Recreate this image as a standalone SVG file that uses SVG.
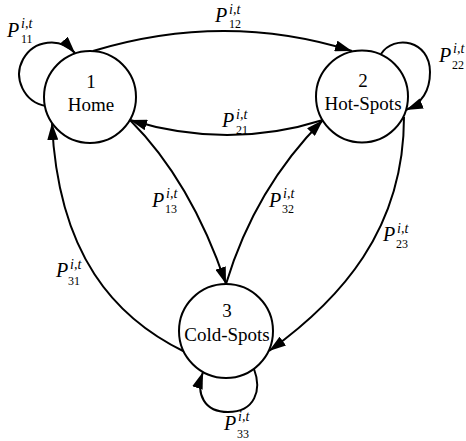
<svg xmlns="http://www.w3.org/2000/svg" width="466" height="441" viewBox="0 0 466 441">
<style>
.node{fill:#fff;stroke:#000;stroke-width:2}
.lbl{font-family:"Liberation Serif","Times New Roman",serif;font-size:19px;fill:#000;text-anchor:middle}
.edge{fill:none;stroke:#000;stroke-width:2;marker-end:url(#ah)}
.P{font-family:"Liberation Serif","Times New Roman",serif;font-style:italic;font-size:20px;fill:#000}
.sup{font-family:"Liberation Serif","Times New Roman",serif;font-style:italic;font-size:14px;fill:#000}
.sub{font-family:"Liberation Serif","Times New Roman",serif;font-size:12px;fill:#000}
</style>
<defs>
<marker id="ah" markerUnits="userSpaceOnUse" markerWidth="18" markerHeight="11" refX="17" refY="5.5" orient="auto">
<path d="M0,0 L17,5.5 L0,11 z" fill="#000"/>
</marker>
</defs>
<rect width="466" height="441" fill="#fff"/>
<g id="connectors">
<path class="edge" d="M93,51 Q225,11 352,51"/>
<path class="edge" d="M323,120 Q228,150 130,120"/>
<path class="edge" d="M130,120 Q191,181 226,284"/>
<path class="edge" d="M226,284 Q255,188 323,120"/>
<path class="edge" d="M404,117 C404,230 340,300 269,351"/>
<path class="edge" d="M185,352 C115,318 58,255 52,123"/>
<path class="edge" d="M46,106 A32,32 0 1 1 75,53"/>
<path class="edge" d="M381,54 C394,34 430,40 430,72 C430,95 418,105 406,110"/>
<path class="edge" d="M254,369 C262,390 255,412 228,412 C205,412 195,395 203,372"/>
</g>
<g id="edge-labels">
<g id="p11"><text class="P" x="7" y="37">P</text><text class="sup" x="21" y="28">i,t</text><text class="sub" x="21" y="43">11</text></g>
<g id="p12"><text class="P" x="215" y="22">P</text><text class="sup" x="229" y="14">i,t</text><text class="sub" x="229" y="28">12</text></g>
<g id="p21"><text class="P" x="222" y="127">P</text><text class="sup" x="236" y="119">i,t</text><text class="sub" x="236" y="134">21</text></g>
<g id="p22"><text class="P" x="439" y="62">P</text><text class="sup" x="453" y="53">i,t</text><text class="sub" x="452" y="69">22</text></g>
<g id="p13"><text class="P" x="152" y="207">P</text><text class="sup" x="166" y="198">i,t</text><text class="sub" x="165" y="213">13</text></g>
<g id="p32"><text class="P" x="269" y="207">P</text><text class="sup" x="283" y="198">i,t</text><text class="sub" x="282" y="213">32</text></g>
<g id="p23"><text class="P" x="383" y="241">P</text><text class="sup" x="397" y="233">i,t</text><text class="sub" x="396" y="248">23</text></g>
<g id="p31"><text class="P" x="56" y="277">P</text><text class="sup" x="70" y="269">i,t</text><text class="sub" x="68" y="285">31</text></g>
<g id="p33"><text class="P" x="224" y="430">P</text><text class="sup" x="238" y="421">i,t</text><text class="sub" x="237" y="438">33</text></g>
</g>
<g id="node1">
<circle class="node" cx="90" cy="97" r="46"/>
<text class="lbl" x="91" y="88">1</text>
<text class="lbl" x="91" y="111">Home</text>
</g>
<g id="node2">
<circle class="node" cx="362" cy="96.5" r="46"/>
<text class="lbl" x="363" y="87">2</text>
<text class="lbl" x="363" y="110">Hot-Spots</text>
</g>
<g id="node3">
<circle class="node" cx="226" cy="331" r="47"/>
<text class="lbl" x="227" y="317">3</text>
<text class="lbl" x="227" y="341">Cold-Spots</text>
</g>
</svg>
